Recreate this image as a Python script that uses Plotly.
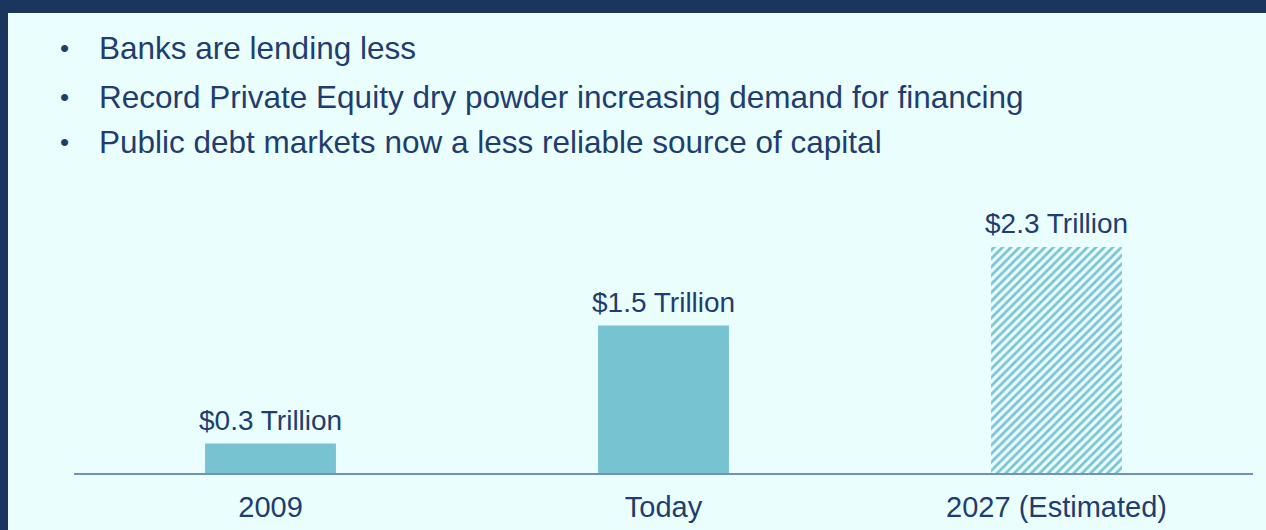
import plotly.graph_objects as go

categories = ["2009", "Today", "2027 (Estimated)"]
values = [0.3, 1.5, 2.3]
estimated = [False, False, True]
bullets = [
    "Banks are lending less",
    "Record Private Equity dry powder increasing demand for financing",
    "Public debt markets now a less reliable source of capital",
]

NAVY = "#1a365f"
BG = "#ebfefe"
BAR = "#78c3d2"
TEXT = "#1f3d6e"
FONT = "Liberation Sans, Arial, sans-serif"

solid_x = [c for c, e in zip(categories, estimated) if not e]
solid_y = [v for v, e in zip(values, estimated) if not e]
est_x = [c for c, e in zip(categories, estimated) if e]
est_y = [v for v, e in zip(values, estimated) if e]

fig = go.Figure()
fig.add_trace(go.Bar(
    x=solid_x, y=solid_y, width=0.333,
    marker=dict(color=BAR, line=dict(width=0)),
    hoverinfo="skip",
))
fig.add_trace(go.Bar(
    x=est_x, y=est_y, width=0.333,
    marker=dict(
        color=BG,
        line=dict(width=0),
        pattern=dict(shape="/", fgcolor=BAR, bgcolor=BG, size=6,
                     solidity=0.45, fgopacity=1, fillmode="replace"),
    ),
    hoverinfo="skip",
))

for i, v in enumerate(values):
    fig.add_annotation(
        x=i, y=v, xref="x", yref="y",
        text=f"${v} Trillion",
        showarrow=False, yanchor="bottom", yshift=6,
        font=dict(size=28, color=TEXT, family=FONT),
    )

# bullets (paper coords; plot area from y px 200 to 473)
bullet_y_px = [48, 97, 142]
for t, ypx in zip(bullets, bullet_y_px):
    yp = (473 - ypx) / 273
    fig.add_annotation(
        x=(64 - 74) / 1179, y=yp, xref="paper", yref="paper",
        text="•", showarrow=False, xanchor="center", yanchor="middle",
        font=dict(size=26, color=TEXT, family=FONT),
    )
    fig.add_annotation(
        x=(97 - 74) / 1179, y=yp, xref="paper", yref="paper",
        text=t, showarrow=False, xanchor="left", yanchor="middle",
        font=dict(size=31.5, color=TEXT, family=FONT),
    )

fig.add_shape(
    type="rect", xref="paper", yref="paper",
    x0=(8 - 74) / 1179, x1=1.05, y0=-0.5, y1=(473 - 13) / 273,
    fillcolor=BG, line=dict(width=0), layer="below",
)

fig.update_layout(
    width=1266, height=530,
    margin=dict(l=74, r=13, t=200, b=57, autoexpand=False),
    paper_bgcolor=NAVY,
    plot_bgcolor="rgba(0,0,0,0)",
    showlegend=False,
    barmode="overlay",
    xaxis=dict(
        type="category",
        showline=True, linecolor="#7090c0", linewidth=2,
        showgrid=False, ticks="", zeroline=False,
        tickfont=dict(size=29, color=TEXT, family=FONT),
        ticklabelstandoff=7, automargin=False,
        range=[-0.5, 2.5],
    ),
    yaxis=dict(
        visible=False, range=[0, 2.778], showgrid=False, zeroline=False,
        automargin=False,
    ),
)

fig.write_html("out.html")
